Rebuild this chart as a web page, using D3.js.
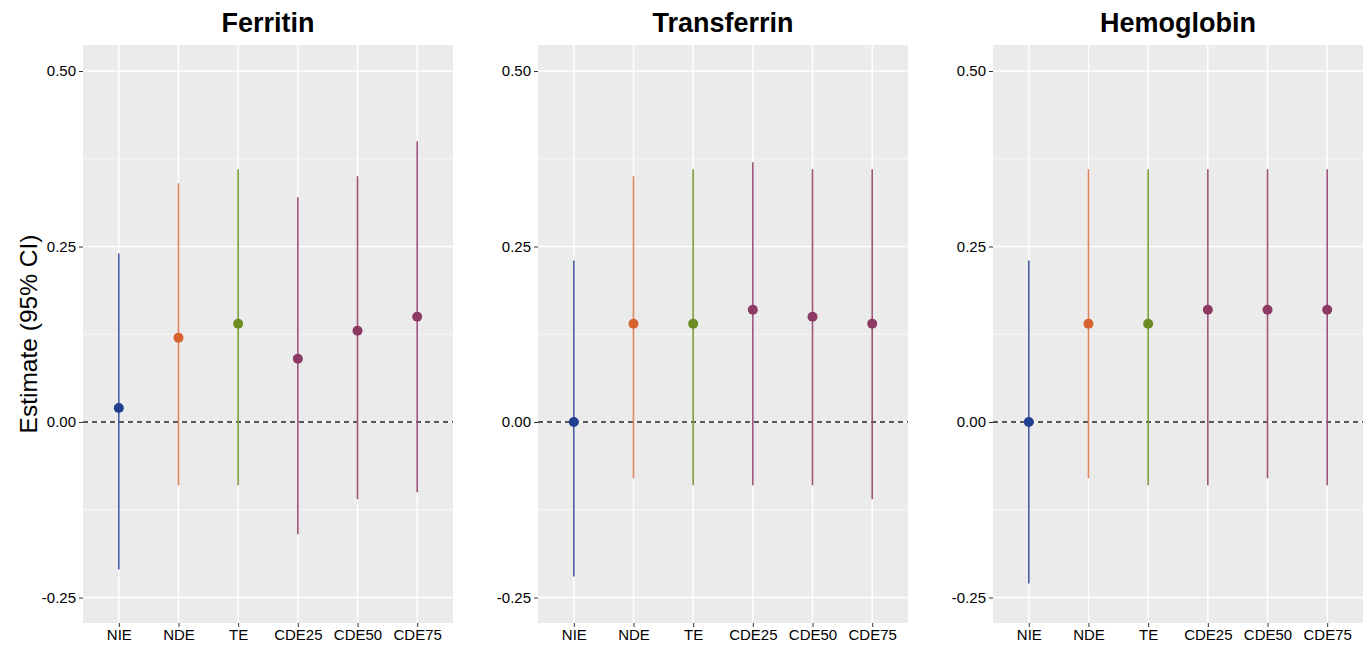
<!DOCTYPE html>
<html>
<head>
<meta charset="utf-8">
<script src="https://cdnjs.cloudflare.com/ajax/libs/d3/7.8.5/d3.min.js"></script>
<style>
  body { margin: 0; background: #fff; }
  text { font-family: "Liberation Sans", Arial, sans-serif; }
</style>
</head>
<body>
<div id="chart"></div>
<script>
var W = 1372, H = 651;

var effects = ["NIE", "NDE", "TE", "CDE25", "CDE50", "CDE75"];
var panels = ["Ferritin", "Transferrin", "Hemoglobin"];

// estimates and 95% CI per panel, in the order of effects
var ferritinEst = [0.02, 0.12, 0.14, 0.09, 0.13, 0.15];
var ferritinLo  = [-0.21, -0.09, -0.09, -0.16, -0.11, -0.10];
var ferritinHi  = [0.24, 0.34, 0.36, 0.32, 0.35, 0.40];

var transferrinEst = [0.00, 0.14, 0.14, 0.16, 0.15, 0.14];
var transferrinLo  = [-0.22, -0.08, -0.09, -0.09, -0.09, -0.11];
var transferrinHi  = [0.23, 0.35, 0.36, 0.37, 0.36, 0.36];

var hemoglobinEst = [0.00, 0.14, 0.14, 0.16, 0.16, 0.16];
var hemoglobinLo  = [-0.23, -0.08, -0.09, -0.09, -0.08, -0.09];
var hemoglobinHi  = [0.23, 0.36, 0.36, 0.36, 0.36, 0.36];

var yTicks = [-0.25, 0, 0.25, 0.5];
var yTickLabels = ["-0.25", "0.00", "0.25", "0.50"];
var yMinor = [-0.125, 0.125, 0.375];

var pointColor = { NIE: "#213f8e", NDE: "#d5622f", TE: "#6a8c22", CDE25: "#8c3a63", CDE50: "#8c3a63", CDE75: "#8c3a63" };
var lineColor  = { NIE: "#4a5da6", NDE: "#e0865f", TE: "#7e9e3a", CDE25: "#9c5479", CDE50: "#9c5479", CDE75: "#9c5479" };

var panelData = [
  [ferritinEst, ferritinLo, ferritinHi],
  [transferrinEst, transferrinLo, transferrinHi],
  [hemoglobinEst, hemoglobinLo, hemoglobinHi]
];

var svg = d3.select("#chart").append("svg")
    .attr("width", W)
    .attr("height", H);

var panelLeft = [83, 538, 993];
var panelW = 370;
var panelTop = 45, panelBottom = 623;

var y = d3.scaleLinear()
    .domain([-0.25, 0.5])
    .range([597.5, 71]);

// y axis title
svg.append("text")
    .attr("transform", "translate(37," + ((panelTop + panelBottom) / 2) + ") rotate(-90)")
    .attr("text-anchor", "middle")
    .attr("font-size", 24.5)
    .attr("fill", "#000")
    .text("Estimate (95% CI)");

panels.forEach(function(name, i) {
  var g = svg.append("g")
      .attr("transform", "translate(" + panelLeft[i] + ",0)");

  var x = d3.scalePoint()
      .domain(effects)
      .range([0, panelW])
      .padding(0.6);

  g.append("rect")
      .attr("x", 0).attr("y", panelTop)
      .attr("width", panelW).attr("height", panelBottom - panelTop)
      .attr("fill", "#ebebeb");

  g.selectAll(".minor").data(yMinor).enter().append("line")
      .attr("x1", 0).attr("x2", panelW)
      .attr("y1", function(d) { return y(d); })
      .attr("y2", function(d) { return y(d); })
      .attr("stroke", "#fff").attr("stroke-width", 0.7);

  g.selectAll(".major").data(yTicks).enter().append("line")
      .attr("x1", 0).attr("x2", panelW)
      .attr("y1", function(d) { return y(d); })
      .attr("y2", function(d) { return y(d); })
      .attr("stroke", "#fff").attr("stroke-width", 1.4);

  g.selectAll(".vgrid").data(effects).enter().append("line")
      .attr("x1", function(d) { return x(d); })
      .attr("x2", function(d) { return x(d); })
      .attr("y1", panelTop).attr("y2", panelBottom)
      .attr("stroke", "#fff").attr("stroke-width", 1.4);

  // axes
  var yAxis = d3.axisLeft(y).tickValues(yTicks)
      .tickFormat(function(d, k) { return yTickLabels[k]; })
      .tickSize(4).tickPadding(3);
  var ya = g.append("g").call(yAxis);
  ya.select(".domain").remove();
  ya.selectAll("line").attr("stroke", "#333");
  ya.selectAll("text").attr("font-size", 15).attr("fill", "#000");

  var xAxis = d3.axisBottom(x).tickSize(4).tickPadding(2);
  var xa = g.append("g").attr("transform", "translate(0," + panelBottom + ")").call(xAxis);
  xa.select(".domain").remove();
  xa.selectAll("line").attr("stroke", "#333");
  xa.selectAll("text").attr("font-size", 15).attr("fill", "#000");

  // reference line at zero
  g.append("line")
      .attr("x1", 0).attr("x2", panelW)
      .attr("y1", y(0)).attr("y2", y(0))
      .attr("stroke", "#222").attr("stroke-width", 1.4)
      .attr("stroke-dasharray", "5,4");

  var rows = effects.map(function(e, k) {
    return { effect: e, est: panelData[i][0][k], lo: panelData[i][1][k], hi: panelData[i][2][k] };
  });

  g.selectAll(".ci").data(rows).enter().append("line")
      .attr("x1", function(d) { return x(d.effect); })
      .attr("x2", function(d) { return x(d.effect); })
      .attr("y1", function(d) { return y(d.lo); })
      .attr("y2", function(d) { return y(d.hi); })
      .attr("stroke", function(d) { return lineColor[d.effect]; })
      .attr("stroke-width", 1.6);

  g.selectAll(".pt").data(rows).enter().append("circle")
      .attr("cx", function(d) { return x(d.effect); })
      .attr("cy", function(d) { return y(d.est); })
      .attr("r", 5)
      .attr("fill", function(d) { return pointColor[d.effect]; });

  g.append("text")
      .attr("x", panelW / 2).attr("y", 32)
      .attr("text-anchor", "middle")
      .attr("font-size", 27).attr("font-weight", "bold")
      .attr("fill", "#000")
      .text(name);
});
</script>
</body>
</html>
